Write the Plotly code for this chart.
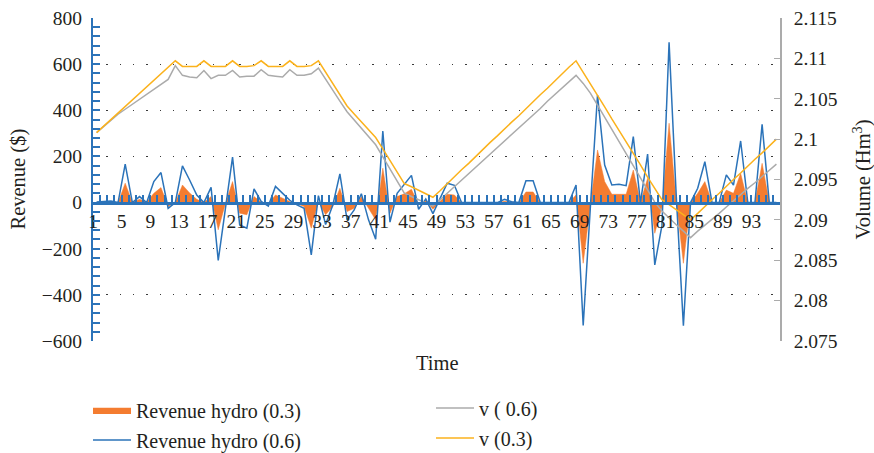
import plotly.graph_objects as go

# ---------------- data ----------------
time = list(range(1, 97))

rev_03 = [2, 4, 4, 0, 84, 0, 14, 3, 40, 65,
          -17, 0, 76, 42, 14, 0, 26, -118, -5, 91,
          -46, -53, 26, 2, -5, 33, 19, 5, -5, -17,
          -111, 4, -53, -17, 62, -39, -25, 26, -25, -75,
          149, -46, 26, 38, 58, -10, 12, -29, 6, 36,
          33, 0, 0, 0, 0, 0, 0, 6, 2, 0,
          46, 46, 0, 0, 0, 0, 0, 33, -263, -10,
          228, 91, 36, 36, 36, 141, 2, 105, -133, -20,
          344, 10, -263, 0, 40, 91, 0, 0, 54, 40,
          127, 0, 0, 170, 0, 0]

rev_06 = [3, 6, 7, 0, 167, 0, 26, 0, 91, 130,
          -25, 0, 159, 98, 33, 0, 66, -251, -20, 197,
          -97, -111, 59, 5, -15, 70, 40, 10, -10, -25,
          -227, 30, -95, -12, 124, -75, -32, 38, -75, -159,
          310, -85, 40, 77, 118, -29, 16, -48, 16, 84,
          75, 0, 0, 0, 0, 0, 0, 14, 4, 0,
          95, 95, 0, 0, 0, 0, 0, 76, -533, -20,
          466, 163, 76, 79, 73, 286, 0, 210, -270, -100,
          695, 30, -534, 0, 62, 177, 0, 0, 120, 76,
          267, 0, 0, 339, 0, 0]

v_06 = [2.1008, 2.1016, 2.1024, 2.1031, 2.1037, 2.1043, 2.1050, 2.1056, 2.1062, 2.1068, 2.1074, 2.1091,
        2.1079, 2.1077, 2.1076, 2.1085, 2.1075, 2.1079, 2.1079, 2.1085, 2.1077, 2.1078, 2.1078, 2.1086,
        2.1079, 2.1078, 2.1077, 2.1086, 2.1079, 2.1079, 2.1081, 2.1088,
        2.1074, 2.1061, 2.1047, 2.1034, 2.1024, 2.1014, 2.1003, 2.0993, 2.0978, 2.0963, 2.0948, 2.0933,
        2.0929, 2.0925, 2.0921, 2.0917,
        2.0925, 2.0933, 2.0941, 2.0949, 2.0957, 2.0966, 2.0974, 2.0982, 2.0990, 2.0998, 2.1006, 2.1014,
        2.1022, 2.1030, 2.1038, 2.1047, 2.1055, 2.1063, 2.1071, 2.1079,
        2.1069, 2.1057, 2.1042, 2.1027, 2.1012, 2.0997, 2.0982, 2.0967, 2.0952, 2.0937, 2.0922, 2.0911,
        2.0902, 2.0894, 2.0886, 2.0878,
        2.0886, 2.0893, 2.0901, 2.0908, 2.0916, 2.0924, 2.0931, 2.0939, 2.0946, 2.0954, 2.0962, 2.0969]

v_03 = [2.1008, 2.1016, 2.1024, 2.1032, 2.1040, 2.1048, 2.1057, 2.1065, 2.1073, 2.1081, 2.1089, 2.1097,
        2.1090, 2.1090, 2.1090, 2.1097, 2.1090, 2.1090, 2.1090, 2.1097, 2.1090, 2.1090, 2.1091, 2.1097,
        2.1090, 2.1090, 2.1090, 2.1097, 2.1090, 2.1090, 2.1091, 2.1097,
        2.1083, 2.1069, 2.1055, 2.1041, 2.1031, 2.1021, 2.1012, 2.1002, 2.0988, 2.0974, 2.0959, 2.0945,
        2.0941, 2.0937, 2.0932, 2.0928,
        2.0936, 2.0945, 2.0953, 2.0962, 2.0970, 2.0979, 2.0987, 2.0996, 2.1004, 2.1013, 2.1021, 2.1029,
        2.1038, 2.1046, 2.1055, 2.1063, 2.1072, 2.1080, 2.1089, 2.1097,
        2.1083, 2.1069, 2.1054, 2.1040, 2.1025, 2.1011, 2.0997, 2.0982, 2.0968, 2.0953, 2.0939, 2.0925,
        2.0919, 2.0913, 2.0906, 2.0900,
        2.0908, 2.0917, 2.0925, 2.0933, 2.0942, 2.0950, 2.0958, 2.0967, 2.0975, 2.0983, 2.0992, 2.1000]

x_tick_labels = ["1", "5", "9", "13", "17", "21", "25", "29", "33", "37", "41", "45",
                 "49", "53", "57", "61", "65", "69", "73", "77", "81", "85", "89", "93"]
rev_ticks = [-600, -400, -200, 0, 200, 400, 600, 800]
vol_tick_labels = ["2.075", "2.08", "2.085", "2.09", "2.095", "2.1", "2.105", "2.11", "2.115"]

# ---------------- style ----------------
FONT = "Liberation Serif"
TXT = "#231F20"
BLUE = "#2B73B9"
ORANGE = "#F47C30"
GRAY = "#ABABAB"
GOLD = "#FBB21C"
W, H = 874, 453
L, R, T, B = 93, 94, 18, 112
PW, PH = W - L - R, H - T - B

fig = go.Figure()
fig.add_trace(go.Scatter(x=time, y=rev_03, name="Revenue hydro (0.3)", mode="lines",
                         line=dict(width=0.5, color=ORANGE), fill="tozeroy", fillcolor=ORANGE,
                         legend="legend"))
fig.add_trace(go.Scatter(x=time, y=rev_06, name="Revenue hydro (0.6)", mode="lines",
                         line=dict(width=1.5, color=BLUE), legend="legend2"))
fig.add_trace(go.Scatter(x=time, y=v_06, name="v ( 0.6)", mode="lines", yaxis="y2",
                         line=dict(width=1.5, color=GRAY), legend="legend3"))
fig.add_trace(go.Scatter(x=time, y=v_03, name="v (0.3)", mode="lines", yaxis="y2",
                         line=dict(width=1.5, color=GOLD), legend="legend4"))

def leg(px, py):
    return dict(x=px / W, y=1 - py / H, xref="container", yref="container",
                xanchor="left", yanchor="middle", bgcolor="rgba(0,0,0,0)",
                font=dict(family=FONT, size=20, color=TXT), itemwidth=38, visible=True)

title_font = dict(family=FONT, size=20.5, color=TXT)

fig.update_layout(
    width=W, height=H,
    showlegend=True,
    margin=dict(l=L, r=R, t=T, b=B, autoexpand=False),
    plot_bgcolor="white", paper_bgcolor="white",
    font=dict(family=FONT, size=20, color=TXT),
    xaxis=dict(
        range=[0.5, 96.5], anchor="free", position=600 / 1400, automargin=False,
        tickmode="array", tickvals=[int(t) - 0.5 for t in x_tick_labels], ticktext=x_tick_labels,
        ticks="inside", ticklen=7, tickwidth=1.5, tickcolor=BLUE,
        showline=True, linecolor=BLUE, linewidth=2.5,
        showgrid=False, zeroline=False,
        minor=dict(tick0=0.5, dtick=1, ticks="inside", ticklen=7, tickwidth=1.5,
                   tickcolor=BLUE, showgrid=False),
        tickfont=dict(family=FONT, size=19.5, color=TXT),
    ),
    yaxis=dict(
        range=[-600, 800], tickmode="array", tickvals=rev_ticks, automargin=False,
        ticks="inside", ticklen=7, tickwidth=1.5, tickcolor=BLUE,
        showline=True, linecolor=BLUE, linewidth=2,
        showgrid=True, gridcolor="#3a3a3a", gridwidth=1.2, griddash="1.3px,12px",
        zeroline=False, ticklabelstandoff=5,
        minor=dict(dtick=40, ticks="inside", ticklen=7, tickwidth=1.5, tickcolor=BLUE, showgrid=False),
        tickfont=dict(family=FONT, size=19.5, color=TXT),
    ),
    yaxis2=dict(
        overlaying="y", side="right", range=[2.075, 2.115], automargin=False,
        tickmode="array", tickvals=[float(s) for s in vol_tick_labels], ticktext=vol_tick_labels,
        ticks="inside", ticklen=6, tickwidth=1.2, tickcolor=GRAY,
        showline=True, linecolor=GRAY, linewidth=1.5,
        showgrid=False, zeroline=False, ticklabelstandoff=8,
        tickfont=dict(family=FONT, size=19.5, color=TXT),
    ),
    legend=leg(88, 410),
    legend2=leg(88, 440),
    legend3=leg(431, 408),
    legend4=leg(431, 438),
    annotations=[
        dict(text="Time", x=(437 - L) / PW, y=-(363 - (T + PH)) / PH, xref="paper", yref="paper",
             xanchor="center", yanchor="middle", showarrow=False, font=title_font),
        dict(text="Revenue ($)", x=(18 - L) / PW, y=0.5, xref="paper", yref="paper",
             xanchor="center", yanchor="middle", textangle=-90, showarrow=False, font=title_font),
        dict(text="Volume (Hm<sup>3</sup>)", x=(862 - L) / PW, y=0.5, xref="paper", yref="paper",
             xanchor="center", yanchor="middle", textangle=-90, showarrow=False, font=title_font),
    ],
)

fig.write_html("out.html")
